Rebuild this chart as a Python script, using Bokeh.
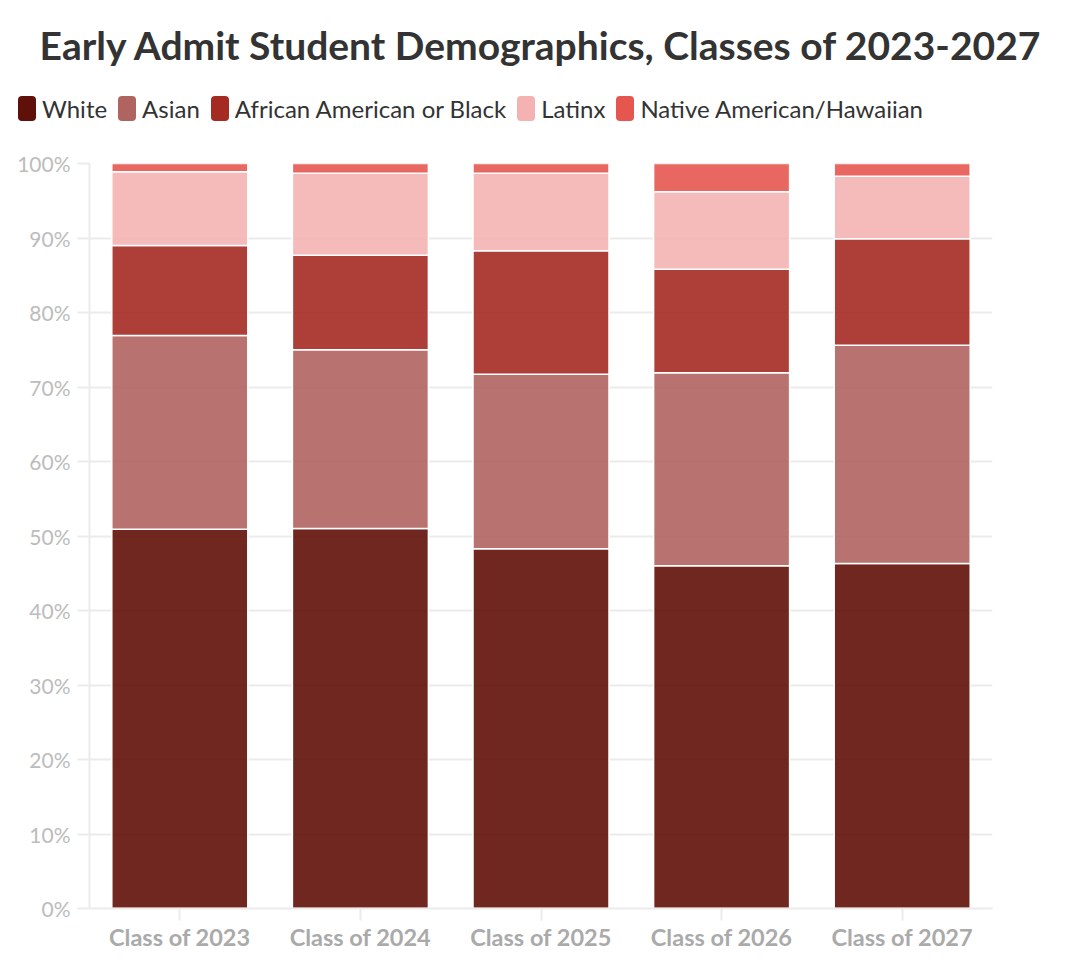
from bokeh.plotting import figure
from bokeh.layouts import column
from bokeh.models import PrintfTickFormatter, FactorRange, Range1d, Div
from bokeh.embed import file_html
from bokeh.resources import INLINE

classes = ["Class of 2023", "Class of 2024", "Class of 2025", "Class of 2026", "Class of 2027"]
groups = ["White", "Asian", "African American or Black", "Latinx", "Native American/Hawaiian"]
white = [50.9, 51.0, 48.3, 46.0, 46.3]
asian = [26.0, 24.0, 23.4, 25.9, 29.3]
black = [12.1, 12.7, 16.6, 13.9, 14.3]
latinx = [9.9, 11.0, 10.4, 10.4, 8.4]
native = [1.1, 1.3, 1.3, 3.8, 1.7]
colors = ["#5f1008", "#b06460", "#a42a22", "#f4b3b2", "#e5564f"]
yticks = list(range(0, 101, 10))
title_text = "Early Admit Student Demographics, Classes of 2023-2027"

data = dict(cls=classes, White=white, Asian=asian)
data["African American or Black"] = black
data["Latinx"] = latinx
data["Native American/Hawaiian"] = native

# ---- header (title + legend) ----
HEAD_H = 150
items_html = "".join(
    f'<div style="display:flex;align-items:center;margin-right:11px;">'
    f'<span style="display:inline-block;width:18px;height:25px;border-radius:4px;'
    f'background:{c};margin-right:6px;"></span>'
    f'<span style="font-size:24px;color:#333333;line-height:25px;">{g}</span></div>'
    for g, c in zip(groups, colors))
head_html = (
    f'<div style="position:relative;width:1080px;height:{HEAD_H}px;font-family:Lato,sans-serif;">'
    f'<div style="position:absolute;left:0;top:23px;width:1080px;text-align:center;'
    f'font-weight:bold;font-size:39px;line-height:44px;color:#333333;white-space:nowrap;">{title_text}</div>'
    f'<div style="position:absolute;left:18px;top:96px;display:flex;white-space:nowrap;">{items_html}</div>'
    f'</div>')
head = Div(text=head_html, width=1080, height=HEAD_H, margin=0)

# ---- main chart ----
p = figure(x_range=FactorRange(*classes, range_padding=0), y_range=Range1d(0, 100),
           width=1080, height=975 - HEAD_H, output_backend="svg", toolbar_location=None,
           min_border_left=89, min_border_right=88, min_border_bottom=67,
           min_border_top=163 - HEAD_H, margin=0)

p.vbar_stack(groups, x="cls", width=0.753, source=data, fill_color=colors,
             fill_alpha=0.9, line_color="white", line_width=1.5)

p.xgrid.grid_line_color = None
p.ygrid.grid_line_color = "#ebebeb"
p.ygrid.grid_line_width = 2
p.ygrid.ticker = yticks
p.yaxis.ticker = yticks
p.yaxis.formatter = PrintfTickFormatter(format="%d%%")
p.outline_line_color = None

for ax in (p.xaxis, p.yaxis):
    ax.axis_line_color = "#ebebeb"
    ax.axis_line_width = 2
    ax.major_tick_line_color = "#ebebeb"
    ax.major_tick_line_width = 2
    ax.major_tick_in = 0
    ax.major_tick_out = 12
    ax.minor_tick_line_color = None
    ax.major_label_text_font = "Lato"

p.yaxis.major_label_text_font_size = "21px"
p.yaxis.major_label_text_color = "#bcbcbc"
p.yaxis.major_label_standoff = 7
p.xaxis.major_label_text_font_size = "23.5px"
p.xaxis.major_label_text_font_style = "bold"
p.xaxis.major_label_text_color = "#aaaaaa"
p.xaxis.major_label_standoff = 2

layout = column(head, p, spacing=0)
open("out.html", "w").write(file_html(layout, INLINE))
